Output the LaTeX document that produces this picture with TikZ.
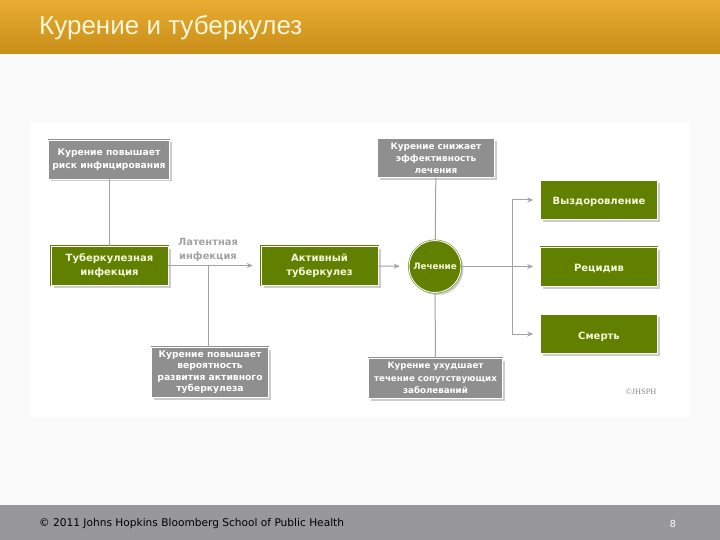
\documentclass[tikz,border=0pt]{standalone}
\usepackage{fontspec}
\setmainfont{DejaVu Sans}
\newfontfamily\titlefont{Liberation Sans}
\newfontfamily\markfont{Liberation Serif}
\usetikzlibrary{shadows, arrows.meta}
\definecolor{barTop}{HTML}{E8AC32}
\definecolor{barBottom}{HTML}{C98E18}
\definecolor{pageBack}{HTML}{FAFAFA}
\definecolor{footGray}{HTML}{98979C}
\definecolor{boxGreen}{HTML}{628000}
\definecolor{boxGray}{HTML}{8F8F8F}
\definecolor{lineGray}{HTML}{A3A3A3}
\definecolor{textCream}{HTML}{F4F7DC}
\tikzset{
    boxbase/.style={draw, double=white, line width=0.5pt, double distance=0.9pt, inner sep=0pt, align=center,
        font=\fontsize{10}{14}\selectfont\bfseries, drop shadow={shadow xshift=2.5pt, shadow yshift=-2.5pt, opacity=0.4}},
    greenbox/.style={boxbase, draw=boxGreen, fill=boxGreen, text=textCream, minimum width=117pt, minimum height=39pt},
    graybox/.style={boxbase, draw=boxGray, fill=boxGray, text=white, font=\fontsize{9.2}{13.5}\selectfont\bfseries},
    link/.style={draw=lineGray, line width=1pt},
    flow/.style={link, -{Stealth[length=6pt, width=5pt]}}
}
\begin{document}
\begin{tikzpicture}[x=1pt, y=-1pt]
    \useasboundingbox (0,0) rectangle (720,540);
    \fill[pageBack] (0,0) rectangle (720,540);
    \shade[top color=barTop, bottom color=barBottom] (0,0) rectangle (720,54);
    \fill[footGray] (0,505) rectangle (720,540);
    \fill[white] (30,122) rectangle (690,418);

    \node[anchor=west, text=textCream, font=\titlefont\fontsize{26}{30}\selectfont, inner sep=0pt] (title) at (39,28) {Курение и туберкулез};
    \node[anchor=west, font=\fontsize{10.6}{12}\selectfont, inner sep=0pt] (copyright) at (39,524) {© 2011 Johns Hopkins Bloomberg School of Public Health};
    \node[text=white, font=\fontsize{9.6}{12}\selectfont, inner sep=0pt] (pagenum) at (673,524) {8};

    % gray boxes
    \node[graybox, minimum width=121pt, minimum height=39pt] (riskbox) at (109,159.5) {Курение повышает\\риск инфицирования};
    \node[graybox, minimum width=117pt, minimum height=50pt, font=\fontsize{9.2}{11.3}\selectfont\bfseries] (progbox) at (210,372) {Курение повышает\\вероятность\\развития активного\\туберкулеза};
    \node[graybox, minimum width=117pt, minimum height=39pt, font=\fontsize{8.9}{12}\selectfont\bfseries] (effbox) at (436,158) {Курение снижает\\эффективность\\лечения};
    \node[graybox, minimum width=134pt, minimum height=40pt, font=\fontsize{8.7}{12.5}\selectfont\bfseries] (comorbox) at (435.5,378) {Курение ухудшает\\течение сопутствующих\\заболеваний};

    % green boxes
    \node[greenbox] (tbinf) at (109.5,265.5) {Туберкулезная\\инфекция};
    \node[greenbox] (active) at (319.5,265.5) {Активный\\туберкулез};
    \node[boxbase, circle, draw=boxGreen, fill=boxGreen, text=textCream, minimum size=52pt, font=\fontsize{8.8}{10}\selectfont\bfseries] (treat) at (435,266.5) {Лечение};
    \foreach \name/\ypos/\lab in {cure/200/Выздоровление, relapse/266.5/Рецидив, death/334/Смерть} {
        \node[greenbox, text height=10pt, text depth=0pt] (\name) at (599,\ypos) {\lab};
    }

    \node[text=lineGray, font=\fontsize{9.9}{14}\selectfont\bfseries, inner sep=0pt, align=center] (latent) at (208,250) {Латентная\\инфекция};
    \node[text=lineGray!85!black, font=\markfont\fontsize{8.3}{9}\selectfont, inner sep=0pt] (mark) at (641,392) {©JHSPH};

    \coordinate (split) at (512,266.5);
    \coordinate (join) at (208,265.5);

    \draw[flow, shorten >=8pt] (tbinf) -- (active);
    \draw[flow, shorten >=9pt] (active) -- (treat);
    \draw[flow, shorten >=7pt] (treat) -- (relapse);
    \draw[flow, shorten >=7pt] (split) |- (cure);
    \draw[flow, shorten >=7pt] (split) |- (death);

    \draw[link] (riskbox) -- (riskbox |- tbinf.north);
    \draw[link] (join) -- (join |- progbox.north);
    \draw[link] (effbox) -- (treat);
    \draw[link] (comorbox) -- (treat);
\end{tikzpicture}
\end{document}
